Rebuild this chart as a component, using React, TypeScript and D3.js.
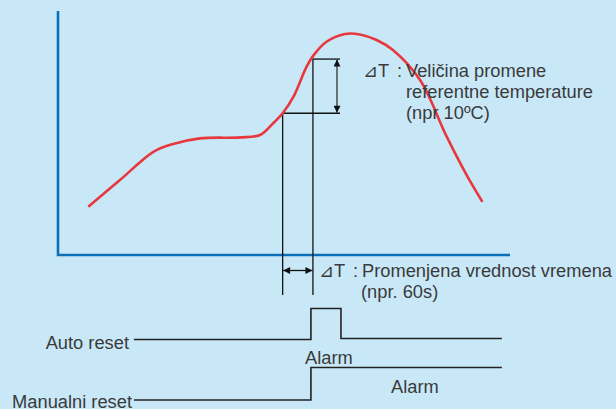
import React, { useEffect, useRef } from 'react';
import * as d3 from 'd3';

// temperature curve (time in %, temperature in %)
const curveTime = [6.7, 13.7, 21.1, 25.5, 31.4, 40.3, 44.7, 47.6, 49.7, 52.1, 55.0, 56.6, 59.4, 63.5, 66.8, 70.5, 74.1, 80.1, 86.0, 90.6, 93.9];
const curveTemp = [19.8, 30.7, 42.3, 45.5, 47.8, 48.2, 49.2, 54.0, 58.1, 64.9, 77.2, 82.0, 87.4, 90.6, 90.4, 88.1, 84.0, 71.7, 48.5, 32.1, 21.8];

// delta markers
const markTimes = [49.7, 56.4];
const markTemps = [58.1, 80.3];

// alarm signals
const signalStart = 16.8;
const signalEnd = 98.2;
const autoPulseEnd = 62.6;

const labelsTemp = ['Veličina promene', 'referentne temperature', '(npr 10ºC)'];
const labelsTime = ['Promenjena vrednost vremena', '(npr. 60s)'];

const W = 616;
const H = 409;

const App: React.FC = () => {
  const ref = useRef<SVGSVGElement>(null);

  useEffect(() => {
    if (!ref.current) return;
    const svg = d3.select(ref.current);
    svg.selectAll('*').remove();

    const x = d3.scaleLinear().domain([0, 100]).range([58, 510]);
    const y = d3.scaleLinear().domain([0, 100]).range([255, 11]);
    const font = 'Liberation Sans, Arial, sans-serif';
    const txt = '#3a3a3a';

    svg.append('rect').attr('width', W).attr('height', H).attr('fill', '#c8e8f8');

    const defs = svg.append('defs');
    defs.append('marker')
      .attr('id', 'ah')
      .attr('viewBox', '0 -5 10 10')
      .attr('refX', 10)
      .attr('refY', 0)
      .attr('markerWidth', 9)
      .attr('markerHeight', 7)
      .attr('markerUnits', 'userSpaceOnUse')
      .attr('orient', 'auto-start-reverse')
      .append('path')
      .attr('d', 'M0,-5L10,0L0,5Z')
      .attr('fill', '#111');

    // axes
    svg.append('path')
      .attr('d', `M${x(0)},${y(100)}V${y(0)}H${x(100)}`)
      .attr('fill', 'none')
      .attr('stroke', '#0b6fb8')
      .attr('stroke-width', 2.6);

    // marker lines
    const g = svg.append('g').attr('stroke', '#111').attr('stroke-width', 1.3).attr('fill', 'none');
    g.append('line').attr('x1', x(markTimes[0])).attr('x2', x(markTimes[0])).attr('y1', y(markTemps[0])).attr('y2', 295);
    g.append('line').attr('x1', x(markTimes[1])).attr('x2', x(markTimes[1])).attr('y1', y(markTemps[1])).attr('y2', 295);
    g.append('line').attr('x1', x(markTimes[0])).attr('x2', 340).attr('y1', y(markTemps[0])).attr('y2', y(markTemps[0]));
    g.append('line').attr('x1', x(markTimes[1])).attr('x2', 340).attr('y1', y(markTemps[1])).attr('y2', y(markTemps[1]));
    g.append('line')
      .attr('x1', 337).attr('x2', 337)
      .attr('y1', y(markTemps[1]) + 0.5).attr('y2', y(markTemps[0]) - 0.5)
      .attr('stroke', '#333')
      .attr('marker-start', 'url(#ah)').attr('marker-end', 'url(#ah)');
    g.append('line')
      .attr('x1', x(markTimes[0]) + 0.5).attr('x2', x(markTimes[1]) - 0.5)
      .attr('y1', 270.5).attr('y2', 270.5)
      .attr('marker-start', 'url(#ah)').attr('marker-end', 'url(#ah)');

    // red curve
    const line = d3.line<number>()
      .x((_, i) => x(curveTime[i]))
      .y(d => y(d))
      .curve(d3.curveCatmullRom);
    svg.append('path')
      .attr('d', line(curveTemp))
      .attr('fill', 'none')
      .attr('stroke', '#e8383d')
      .attr('stroke-width', 2.6)
      .attr('stroke-linejoin', 'round');

    // signals
    const sg = svg.append('g').attr('stroke', '#222').attr('stroke-width', 1.6).attr('fill', 'none');
    const autoLow = 339.5, autoHigh = 308.5;
    const manLow = 400, manHigh = 367.5;
    sg.append('path').attr('d',
      `M${x(signalStart)},${autoLow}H${x(markTimes[1]) - 2}V${autoHigh}H${x(autoPulseEnd)}V${autoLow - 1}H${x(signalEnd)}`);
    sg.append('path').attr('d',
      `M${x(signalStart)},${manLow}H${x(markTimes[1]) - 2}V${manHigh}H${x(signalEnd)}`);

    // text
    const t = svg.append('g').attr('font-family', font).attr('font-size', 18.3).attr('fill', txt);
    t.append('text').attr('x', 363).attr('y', 77).text('⊿T');
    t.append('text').attr('x', 397).attr('y', 77).text(':');
    labelsTemp.forEach((s, i) => {
      t.append('text').attr('x', 406).attr('y', 77 + i * 21).text(s);
    });
    t.append('text').attr('x', 319).attr('y', 277).text('⊿T');
    t.append('text').attr('x', 353).attr('y', 277).text(':');
    labelsTime.forEach((s, i) => {
      t.append('text').attr('x', i === 0 ? 362 : 361).attr('y', 277 + i * 20.5).text(s);
    });
    t.append('text').attr('x', 129).attr('y', 348.5).attr('text-anchor', 'end').text('Auto reset');
    t.append('text').attr('x', 132).attr('y', 407.5).attr('text-anchor', 'end').text('Manualni reset');
    t.append('text').attr('x', 305).attr('y', 363.5).text('Alarm');
    t.append('text').attr('x', 391).attr('y', 393).text('Alarm');
  }, []);

  return (
    <div style={{ position: 'fixed', left: 0, top: 0, width: W, height: H }}>
      <svg ref={ref} width={W} height={H} style={{ display: 'block' }} />
    </div>
  );
};

export default App;
